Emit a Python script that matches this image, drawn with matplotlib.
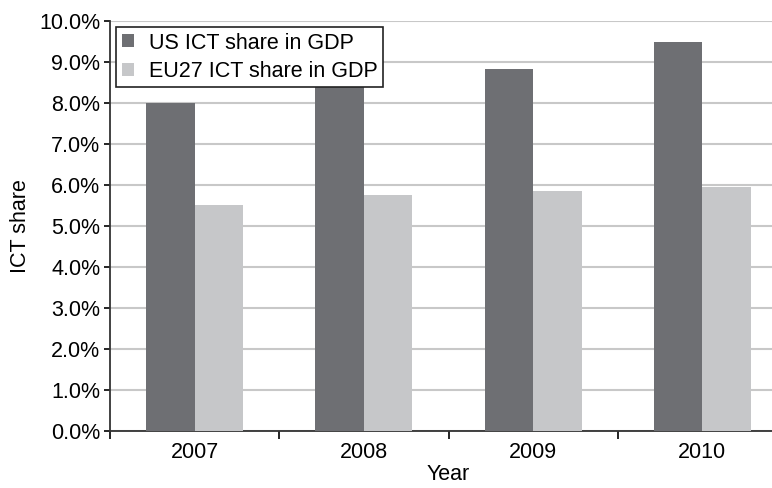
import numpy as np
import matplotlib.pyplot as plt
from matplotlib.ticker import PercentFormatter

years = ["2007", "2008", "2009", "2010"]
us_share = [8.0, 8.6, 8.83, 9.48]
eu_share = [5.5, 5.75, 5.85, 5.94]

plt.rcParams["font.family"] = ["Liberation Sans", "DejaVu Sans"]
fs = 15.5

fig = plt.figure(figsize=(7.72, 4.88), dpi=100)
ax = fig.add_axes([110 / 772, 0.1174, 0.877, 0.8402])

x = np.arange(len(years))
w = 0.286
ax.bar(x - w / 2, us_share, w, color="#6e6f73", label="US ICT share in GDP", zorder=3)
ax.bar(x + w / 2, eu_share, w, color="#c6c7c9", label="EU27 ICT share in GDP", zorder=3)

ax.set_ylim(0, 10)
ax.set_xlim(-0.5, len(years) - 0.5)
ax.set_yticks(np.arange(0, 10.5, 1))
ax.yaxis.set_major_formatter(PercentFormatter(decimals=1))
ax.set_xticks(x)
ax.set_xticklabels(years)
ax.set_xticks(np.arange(-0.5, len(years), 1), minor=True)
ax.tick_params(axis="x", which="major", length=0, pad=8, labelsize=fs)
ax.tick_params(axis="x", which="minor", length=6, width=1.2, direction="out")
ax.tick_params(axis="y", length=4, width=1.2, labelsize=fs, pad=3)

ax.grid(axis="y", color="#c8c8c8", linewidth=1.5, zorder=0)
for s in ["top", "right"]:
    ax.spines[s].set_visible(False)
for s in ["left", "bottom"]:
    ax.spines[s].set_color("#333333")
    ax.spines[s].set_linewidth(1.3)

ax.set_xlabel("Year", fontsize=fs, labelpad=1)
ax.set_ylabel("ICT share", fontsize=fs, labelpad=6)

leg = ax.legend(loc="upper left", bbox_to_anchor=(0.0, 1.0), fontsize=fs, frameon=True,
                fancybox=False, edgecolor="#222222", framealpha=1,
                handlelength=0.55, handleheight=0.55, handletextpad=0.7,
                borderpad=0.25, labelspacing=0.35, borderaxespad=0.3)
leg.get_frame().set_linewidth(1.2)

fig.savefig("out.png", dpi=100)
